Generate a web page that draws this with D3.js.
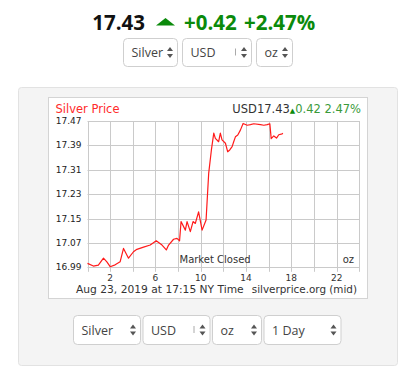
<!DOCTYPE html>
<html>
<head>
<meta charset="utf-8">
<script src="https://cdn.jsdelivr.net/npm/d3@7.9.0/dist/d3.min.js"></script>
<style>
  html, body { margin: 0; padding: 0; background: #fff; }
  svg { display: block; }
  .ctl { font-family: "Open Sans", sans-serif; }
  .chart text { font-family: "DejaVu Sans", Verdana, sans-serif; }
</style>
</head>
<body>
<svg id="page" width="412" height="374"></svg>
<script>
// price summary
const lastPrice = '17.43';
const change = '+0.42';
const changePct = '+2.47%';

// intraday silver price, hours since midnight NY time
const hours = [0.0, 0.52, 0.96, 1.41, 1.71, 2.0, 2.44, 2.88, 3.18, 3.62, 4.06, 4.36, 4.95, 5.54,
  6.07, 6.58, 6.96, 7.16, 7.6, 7.9, 8.13, 8.26, 8.64, 8.79, 9.08, 9.32, 9.52, 9.81, 10.12,
  10.47, 10.7, 10.94, 11.15, 11.29, 11.58, 11.73, 11.88, 12.18, 12.38, 12.56, 12.77, 12.91,
  13.06, 13.27, 13.5, 13.74, 14.1, 14.39, 14.68, 15.27, 15.57, 15.87, 16.1, 16.22, 16.45,
  16.69, 16.89, 17.19, 17.25];
const prices = [17.003, 16.994, 16.997, 17.02, 17.008, 16.992, 16.998, 17.008, 17.052, 17.02,
  17.041, 17.049, 17.056, 17.063, 17.077, 17.063, 17.047, 17.063, 17.082, 17.085, 17.077,
  17.14, 17.112, 17.14, 17.107, 17.14, 17.134, 17.172, 17.112, 17.145, 17.298, 17.375,
  17.43, 17.413, 17.402, 17.43, 17.408, 17.397, 17.369, 17.375, 17.386, 17.402, 17.418,
  17.424, 17.44, 17.462, 17.456, 17.458, 17.461, 17.458, 17.456, 17.458, 17.461, 17.412,
  17.421, 17.414, 17.425, 17.428, 17.43];

const yTicks = [16.99, 17.07, 17.15, 17.23, 17.31, 17.39, 17.47];
const xGrid = d3.range(0, 25, 2);
const xLabels = [2, 6, 10, 14, 18, 22];

const topSelects = [['Silver', 54], ['USD', 69], ['oz', 36]];
const bottomSelects = [['Silver', 67], ['USD', 67], ['oz', 49], ['1 Day', 77]];

const svg = d3.select('#page');
const green = '#0b8a0b';

// ---- header
svg.append('text')
  .attr('x', 145).attr('y', 29.5)
  .attr('text-anchor', 'end')
  .attr('class', 'ctl')
  .style('font-size', '20.5px').style('font-weight', 700).attr('fill', '#111')
  .text(lastPrice);
svg.append('path')
  .attr('d', 'M156,25.5L165.5,18L175,25.5Z')
  .attr('fill', green);
svg.append('text')
  .attr('x', 184).attr('y', 29.5)
  .attr('class', 'ctl')
  .style('font-size', '20.5px').style('font-weight', 700).attr('fill', green)
  .style('word-spacing', '2px')
  .text(change + ' ' + changePct);

function drawSelects(list, x0, y0, h, gap) {
  let x = x0;
  list.forEach(([label, w]) => {
    const g = svg.append('g').attr('class', 'ctl').attr('transform', `translate(${x},${y0})`);
    g.append('rect').attr('x', 0.5).attr('y', 0.5).attr('width', w).attr('height', h)
      .attr('rx', 4).attr('fill', '#fff').attr('stroke', '#cfcfcf');
    g.append('text').attr('x', 8.5).attr('y', h / 2 + 5)
      .style('font-size', '12.5px').attr('fill', '#444').text(label);
    const ax = w - 7;
    const cy = h / 2 + 0.5;
    g.append('path')
      .attr('d', `M${ax - 3},${cy - 1.5}L${ax},${cy - 5.5}L${ax + 3},${cy - 1.5}Z` +
                 `M${ax - 3},${cy + 1.5}L${ax},${cy + 5.5}L${ax + 3},${cy + 1.5}Z`)
      .attr('fill', '#555');
    if (label === 'USD') {
      g.append('line').attr('x1', w - 15.5).attr('x2', w - 15.5)
        .attr('y1', cy - 4).attr('y2', cy + 3).attr('stroke', '#aaa');
    }
    x += w + gap;
  });
}
drawSelects(topSelects, 123, 38, 28, 5);

// ---- panel
svg.append('rect')
  .attr('x', 18.5).attr('y', 87.5).attr('width', 379).attr('height', 278)
  .attr('rx', 3).attr('fill', '#f4f4f4').attr('stroke', '#e2e2e2');

drawSelects(bottomSelects, 73, 315, 29, 2.5);

// ---- chart box
const box = { x: 48, y: 97, w: 320, h: 201 };
const chart = svg.append('g').attr('class', 'chart')
  .attr('transform', `translate(${box.x},${box.y})`);
chart.append('rect').attr('x', 0.5).attr('y', 0.5)
  .attr('width', box.w - 1).attr('height', box.h)
  .attr('fill', '#fff').attr('stroke', '#d4d4d4');

const plot = { left: 39.5, right: 311.3, top: 24, bottom: 170.3 };

const x = d3.scaleLinear().domain([0, 24]).range([plot.left, plot.right]);
const y = d3.scaleLinear().domain([16.99, 17.47]).range([plot.bottom, plot.top]);

// grid
chart.append('g').selectAll('line').data(yTicks).join('line')
  .attr('x1', plot.left).attr('x2', plot.right)
  .attr('y1', d => Math.round(y(d)) + 0.5).attr('y2', d => Math.round(y(d)) + 0.5)
  .attr('stroke', '#cacaca');
chart.append('g').selectAll('line').data(xGrid).join('line')
  .attr('x1', d => Math.round(x(d)) + 0.5).attr('x2', d => Math.round(x(d)) + 0.5)
  .attr('y1', plot.top).attr('y2', plot.bottom + 4.5)
  .attr('stroke', '#cacaca');

// y labels
chart.append('g').selectAll('text').data(yTicks).join('text')
  .attr('x', plot.left - 6).attr('y', d => y(d) + 3)
  .attr('text-anchor', 'end')
  .style('font-size', '9px').attr('fill', '#222')
  .text(d => d.toFixed(2));

// x labels
chart.append('g').selectAll('text').data(xLabels).join('text')
  .attr('x', d => x(d)).attr('y', plot.bottom + 13.5)
  .attr('text-anchor', 'middle')
  .style('font-size', '9px').attr('fill', '#333')
  .text(d => d);

// price line
const series = hours.map((h, i) => [h, prices[i]]);
chart.append('path')
  .datum(series)
  .attr('fill', 'none')
  .attr('stroke', '#ff1a1a')
  .attr('stroke-width', 1.2)
  .attr('stroke-linejoin', 'round')
  .attr('d', d3.line().x(d => x(d[0])).y(d => y(d[1])));

// chart texts
chart.append('text').attr('x', 7.5).attr('y', 16)
  .style('font-size', '11.5px').attr('fill', '#ff2a2a').text('Silver Price');

const hdr = chart.append('text').attr('x', 313).attr('y', 16)
  .attr('text-anchor', 'end').style('font-size', '11.5px');
hdr.append('tspan').attr('fill', '#333').text('USD' + lastPrice);
hdr.append('tspan').attr('fill', green).style('font-size', '7px').text('▲');
hdr.append('tspan').attr('fill', '#3a9a3a').text(change.slice(1) + ' ' + changePct.slice(1));

chart.append('text').attr('x', 131.5).attr('y', 166)
  .style('font-size', '10px').attr('fill', '#333').text('Market Closed');
chart.append('text').attr('x', 306).attr('y', 166)
  .attr('text-anchor', 'end')
  .style('font-size', '10px').attr('fill', '#333').text('oz');

chart.append('text').attr('x', 28).attr('y', 196)
  .style('font-size', '10.7px').attr('fill', '#333')
  .text('Aug 23, 2019 at 17:15 NY Time');
chart.append('text').attr('x', 309).attr('y', 196)
  .attr('text-anchor', 'end')
  .style('font-size', '10.4px').attr('fill', '#333')
  .text('silverprice.org (mid)');
</script>
</body>
</html>
